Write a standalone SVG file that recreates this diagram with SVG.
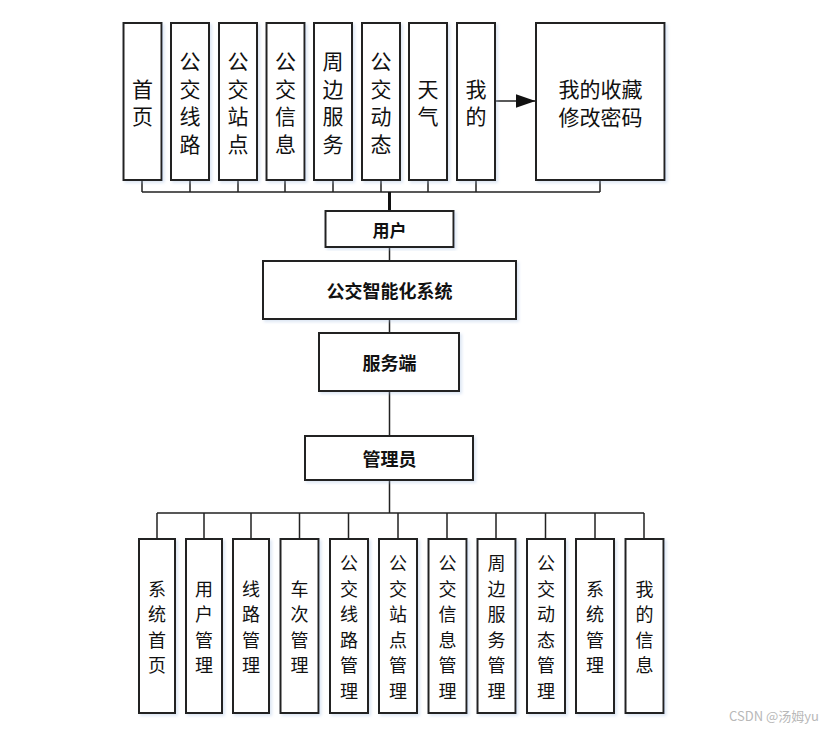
<svg xmlns="http://www.w3.org/2000/svg" width="840" height="732" viewBox="0 0 840 732">
<style>
.box{fill:#fff;stroke:#222;stroke-width:2;filter:url(#sh)}
.vt{font-family:"Noto Sans CJK SC",sans-serif;font-size:21px;fill:#111;text-anchor:middle;dominant-baseline:central}
.vb{font-family:"Noto Sans CJK SC",sans-serif;font-size:18px;fill:#111;text-anchor:middle;dominant-baseline:central}
.mt{font-family:"Noto Sans CJK SC",sans-serif;font-size:17px;font-weight:bold;fill:#111;text-anchor:middle;dominant-baseline:central}
.ln{stroke:#222;stroke-width:1.5;fill:none}
</style>
<defs>
<filter id="sh" x="-20%" y="-10%" width="140%" height="120%">
<feDropShadow dx="2" dy="2" stdDeviation="1.5" flood-color="#9db8e0" flood-opacity="0.35"/>
</filter>
<marker id="ar" markerWidth="10" markerHeight="10" refX="10" refY="5" orient="auto" markerUnits="userSpaceOnUse">
<path d="M0,0 L10,5 L0,10 z" fill="#111"/>
</marker>
<marker id="ar2" markerWidth="20" markerHeight="14" refX="20" refY="7" orient="auto" markerUnits="userSpaceOnUse">
<path d="M0,0 L20,7 L0,14 z" fill="#111"/>
</marker>
</defs>
<rect width="840" height="732" fill="#fff"/>

<g id="connectors">
<path class="ln" d="M142,180 V192 M190,180 V192 M238,180 V192 M285,180 V192 M333,180 V192 M381,180 V192 M428,180 V192 M476,180 V192 M600,180 V192 M142,192 H600"/>
<path d="M389.5,192 V211" stroke="#111" stroke-width="3"/>
<path class="ln" d="M389.5,247 V261 M389.5,319 V333 M389.5,391 V436 M389.5,480 V513"/>
<path class="ln" d="M157,513 H644 M157,513 V539 M204,513 V539 M251,513 V539 M299.5,513 V539 M348.5,513 V539 M398,513 V539 M447,513 V539 M496,513 V539 M545.5,513 V539 M595,513 V539 M644,513 V539"/>
<path class="ln" d="M495,101 H535.5" marker-end="url(#ar2)"/>
</g>

<g id="n-home"><rect class="box" x="123.5" y="23" width="38" height="157"/><text class="vt" x="142.5"><tspan x="142.5" y="87.75">首</tspan><tspan x="142.5" y="115.25">页</tspan></text></g>
<g id="n-route"><rect class="box" x="171" y="23" width="38" height="157"/><text class="vt"><tspan x="190" y="60.25">公</tspan><tspan x="190" y="87.75">交</tspan><tspan x="190" y="115.25">线</tspan><tspan x="190" y="142.75">路</tspan></text></g>
<g id="n-stop"><rect class="box" x="219" y="23" width="38" height="157"/><text class="vt"><tspan x="238" y="60.25">公</tspan><tspan x="238" y="87.75">交</tspan><tspan x="238" y="115.25">站</tspan><tspan x="238" y="142.75">点</tspan></text></g>
<g id="n-info"><rect class="box" x="266.5" y="23" width="38" height="157"/><text class="vt"><tspan x="285.5" y="60.25">公</tspan><tspan x="285.5" y="87.75">交</tspan><tspan x="285.5" y="115.25">信</tspan><tspan x="285.5" y="142.75">息</tspan></text></g>
<g id="n-around"><rect class="box" x="314" y="23" width="38" height="157"/><text class="vt"><tspan x="333" y="60.25">周</tspan><tspan x="333" y="87.75">边</tspan><tspan x="333" y="115.25">服</tspan><tspan x="333" y="142.75">务</tspan></text></g>
<g id="n-dyn"><rect class="box" x="362" y="23" width="38" height="157"/><text class="vt"><tspan x="381" y="60.25">公</tspan><tspan x="381" y="87.75">交</tspan><tspan x="381" y="115.25">动</tspan><tspan x="381" y="142.75">态</tspan></text></g>
<g id="n-weather"><rect class="box" x="409" y="23" width="38" height="157"/><text class="vt"><tspan x="428" y="87.75">天</tspan><tspan x="428" y="115.25">气</tspan></text></g>
<g id="n-mine"><rect class="box" x="457" y="23" width="38" height="157"/><text class="vt"><tspan x="476" y="87.75">我</tspan><tspan x="476" y="115.25">的</tspan></text></g>
<g id="n-fav"><rect class="box" x="536" y="23" width="128.5" height="157"/><text class="vt"><tspan x="600.5" y="88">我的收藏</tspan><tspan x="600.5" y="115.5">修改密码</tspan></text></g>

<g id="n-user"><rect class="box" x="325.5" y="211" width="128" height="36"/><text class="mt" x="389.5" y="229">用户</text></g>
<g id="n-system"><rect class="box" x="263" y="261" width="253" height="58"/><text class="mt" x="389.5" y="290" style="font-size:18px">公交智能化系统</text></g>
<g id="n-server"><rect class="box" x="319" y="333" width="140" height="58"/><text class="mt" x="389.5" y="362" style="font-size:18px">服务端</text></g>
<g id="n-admin"><rect class="box" x="305" y="436" width="168" height="44"/><text class="mt" x="389.5" y="458" style="font-size:18px">管理员</text></g>

<g id="b-home"><rect class="box" x="139" y="539" width="36" height="174"/><text class="vb"><tspan x="157" y="587.75">系</tspan><tspan x="157" y="613.25">统</tspan><tspan x="157" y="638.75">首</tspan><tspan x="157" y="664.25">页</tspan></text></g>
<g id="b-user"><rect class="box" x="186" y="539" width="36" height="174"/><text class="vb"><tspan x="204" y="587.75">用</tspan><tspan x="204" y="613.25">户</tspan><tspan x="204" y="638.75">管</tspan><tspan x="204" y="664.25">理</tspan></text></g>
<g id="b-line"><rect class="box" x="233" y="539" width="36" height="174"/><text class="vb"><tspan x="251" y="587.75">线</tspan><tspan x="251" y="613.25">路</tspan><tspan x="251" y="638.75">管</tspan><tspan x="251" y="664.25">理</tspan></text></g>
<g id="b-trip"><rect class="box" x="280.5" y="539" width="38" height="174"/><text class="vb"><tspan x="299.5" y="587.75">车</tspan><tspan x="299.5" y="613.25">次</tspan><tspan x="299.5" y="638.75">管</tspan><tspan x="299.5" y="664.25">理</tspan></text></g>
<g id="b-route"><rect class="box" x="330" y="539" width="38" height="174"/><text class="vb"><tspan x="349" y="562.25">公</tspan><tspan x="349" y="587.75">交</tspan><tspan x="349" y="613.25">线</tspan><tspan x="349" y="638.75">路</tspan><tspan x="349" y="664.25">管</tspan><tspan x="349" y="689.75">理</tspan></text></g>
<g id="b-stop"><rect class="box" x="379" y="539" width="38" height="174"/><text class="vb"><tspan x="398" y="562.25">公</tspan><tspan x="398" y="587.75">交</tspan><tspan x="398" y="613.25">站</tspan><tspan x="398" y="638.75">点</tspan><tspan x="398" y="664.25">管</tspan><tspan x="398" y="689.75">理</tspan></text></g>
<g id="b-info"><rect class="box" x="428.5" y="539" width="38" height="174"/><text class="vb"><tspan x="447.5" y="562.25">公</tspan><tspan x="447.5" y="587.75">交</tspan><tspan x="447.5" y="613.25">信</tspan><tspan x="447.5" y="638.75">息</tspan><tspan x="447.5" y="664.25">管</tspan><tspan x="447.5" y="689.75">理</tspan></text></g>
<g id="b-around"><rect class="box" x="477.5" y="539" width="38" height="174"/><text class="vb"><tspan x="496.5" y="562.25">周</tspan><tspan x="496.5" y="587.75">边</tspan><tspan x="496.5" y="613.25">服</tspan><tspan x="496.5" y="638.75">务</tspan><tspan x="496.5" y="664.25">管</tspan><tspan x="496.5" y="689.75">理</tspan></text></g>
<g id="b-dyn"><rect class="box" x="527" y="539" width="38" height="174"/><text class="vb"><tspan x="546" y="562.25">公</tspan><tspan x="546" y="587.75">交</tspan><tspan x="546" y="613.25">动</tspan><tspan x="546" y="638.75">态</tspan><tspan x="546" y="664.25">管</tspan><tspan x="546" y="689.75">理</tspan></text></g>
<g id="b-sys"><rect class="box" x="576" y="539" width="38" height="174"/><text class="vb"><tspan x="595" y="587.75">系</tspan><tspan x="595" y="613.25">统</tspan><tspan x="595" y="638.75">管</tspan><tspan x="595" y="664.25">理</tspan></text></g>
<g id="b-mine"><rect class="box" x="625.5" y="539" width="38" height="174"/><text class="vb"><tspan x="644.5" y="587.75">我</tspan><tspan x="644.5" y="613.25">的</tspan><tspan x="644.5" y="638.75">信</tspan><tspan x="644.5" y="664.25">息</tspan></text></g>

<text x="729" y="721" style="font-family:'Noto Sans CJK SC',sans-serif;font-size:13px;fill:#b8b8b8">CSDN @汤姆yu</text>
</svg>
